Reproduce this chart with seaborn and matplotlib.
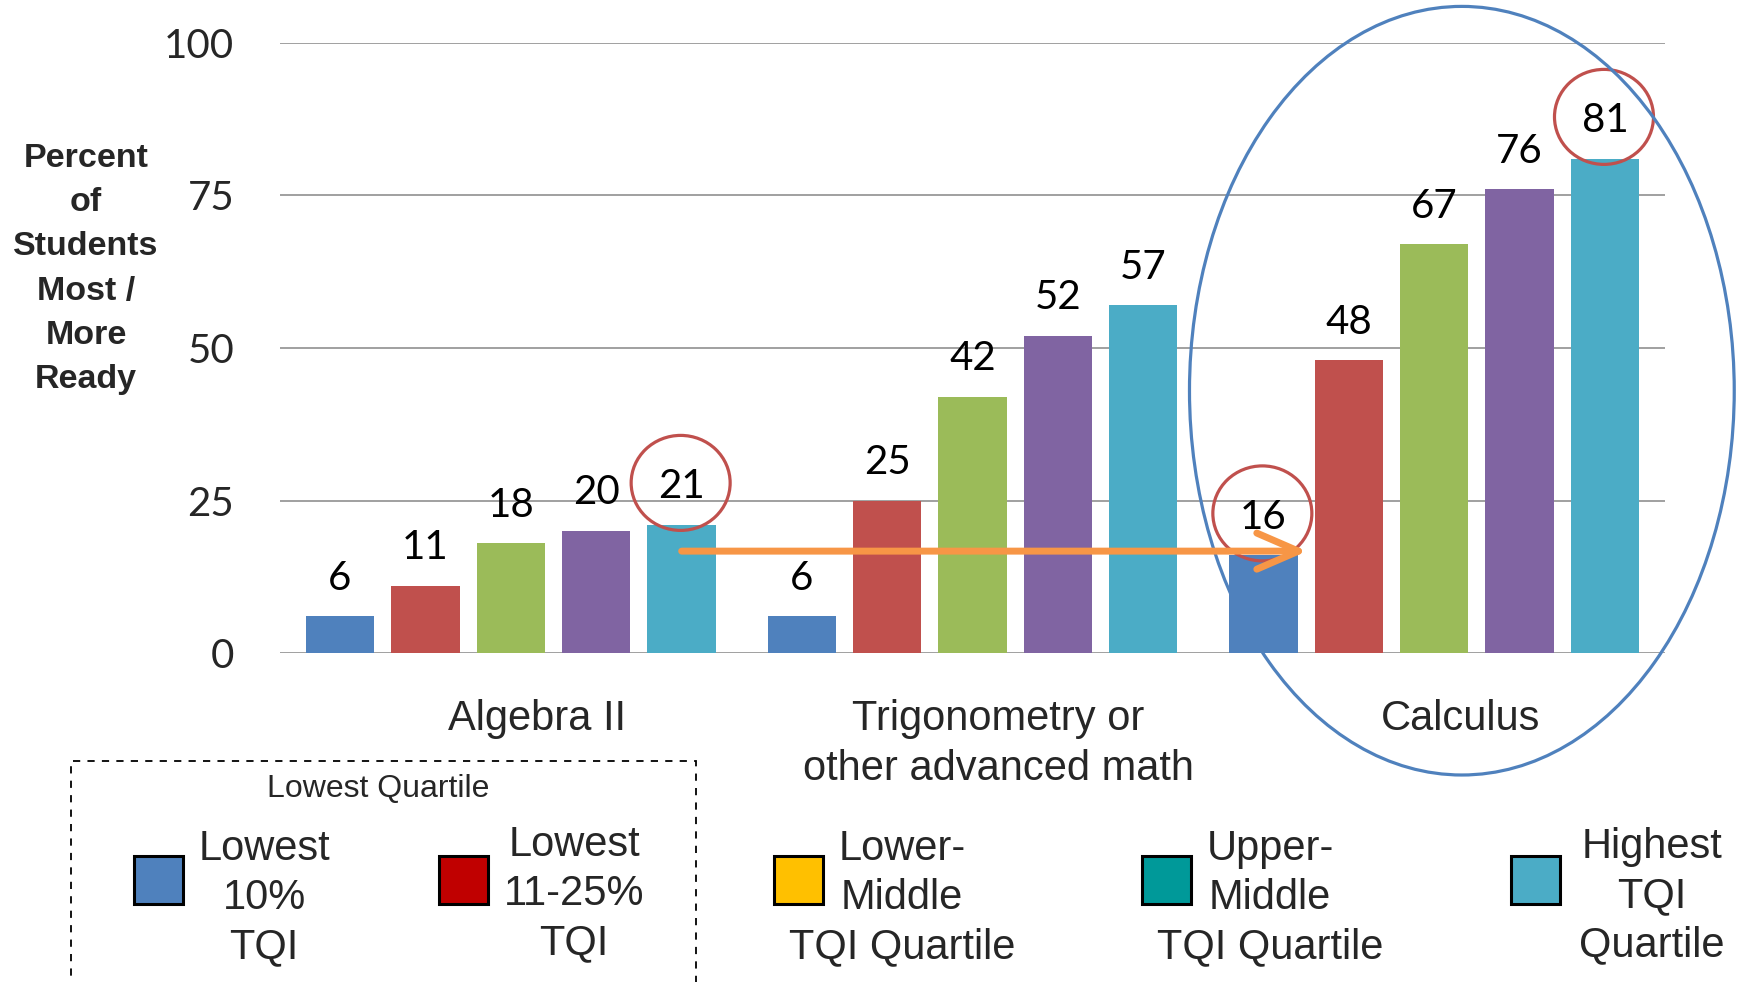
import matplotlib
matplotlib.use("Agg")
import matplotlib.pyplot as plt
import matplotlib.transforms as mtransforms
from matplotlib.patches import Ellipse, Rectangle
import pandas as pd
import seaborn as sns

# ---- data -------------------------------------------------------------
courses = ["Algebra II", "Trigonometry or\nother advanced math", "Calculus"]
groups = ["Lowest 10% TQI", "Lowest 11-25% TQI", "Lower-Middle TQI Quartile",
          "Upper-Middle TQI Quartile", "Highest TQI Quartile"]
lowest_10 = [6, 6, 16]
lowest_11_25 = [11, 25, 48]
lower_middle = [18, 42, 67]
upper_middle = [20, 52, 76]
highest = [21, 57, 81]
y_ticks = [0, 25, 50, 75, 100]

bar_colors = ["#4F81BD", "#C0504D", "#9BBB59", "#8064A2", "#4BACC6"]
legend_labels = ["Lowest\n10%\nTQI", "Lowest\n11-25%\nTQI", "Lower-\nMiddle\nTQI Quartile",
                 "Upper-\nMiddle\nTQI Quartile", "Highest\nTQI\nQuartile"]
legend_colors = ["#4F81BD", "#C00000", "#FFC000", "#009999", "#4BACC6"]
legend_title = "Lowest Quartile"
y_label = "Percent\nof\nStudents\nMost /\nMore\nReady"

# highlighted values: (course index, group index)
highlights = [(0, 4), (2, 0), (2, 4)]

series = [lowest_10, lowest_11_25, lower_middle, upper_middle, highest]
df = pd.DataFrame(
    [(c, g, v) for g, vals in zip(groups, series) for c, v in zip(courses, vals)],
    columns=["course", "group", "pct"],
)

# ---- style ------------------------------------------------------------
sns.set_theme(style="white")
plt.rcParams["font.family"] = ["Liberation Sans", "DejaVu Sans"]
NUM_FONT = ["Lato", "DejaVu Sans"]

W, H = 1742, 982
fig = plt.figure(figsize=(W / 100, H / 100), dpi=100)
ax = fig.add_axes([280 / W, 1 - 653 / H, 1385 / W, 610 / H])

sns.barplot(data=df, x="course", y="pct", hue="group", order=courses,
            hue_order=groups, palette=bar_colors, saturation=1,
            width=0.925, gap=0.2, legend=False, ax=ax, linewidth=0)

ax.set_ylim(0, 100)
ax.set_xlim(-0.5, len(courses) - 0.5)
ax.set_yticks(y_ticks)
ax.set_yticklabels([str(t) for t in y_ticks], fontsize=29, family=NUM_FONT)
ax.tick_params(axis="y", length=0, pad=33)
ax.tick_params(axis="x", length=0, pad=33, labelsize=30)
ax.set_xlabel("")
ax.set_ylabel("")
ax.set_axisbelow(True)
ax.yaxis.grid(True, color="#868686", linewidth=1.1)
ax.xaxis.grid(False)
for s in ax.spines.values():
    s.set_visible(False)

# course names sit slightly right of the group centres
shift = mtransforms.ScaledTranslation(0.26, 0, fig.dpi_scale_trans)
for lbl in ax.get_xticklabels():
    lbl.set_transform(lbl.get_transform() + shift)
    lbl.set_linespacing(1.34)

# value labels above the bars
label_pos = {}
for gi, cont in enumerate(ax.containers):
    for ci, bar in enumerate(cont):
        x = bar.get_x() + bar.get_width() / 2
        v = bar.get_height()
        label_pos[(ci, gi)] = (x, v)
        ax.annotate(f"{v:g}", xy=(x, v), xytext=(0, 27.5), textcoords="offset points",
                    ha="center", va="center", fontsize=29, family=NUM_FONT, color="black")

# red rings around the highlighted labels
for key in highlights:
    x, v = label_pos[key]
    tr = fig.dpi_scale_trans + mtransforms.ScaledTranslation(x, v, ax.transData)
    ring = Ellipse((-0.01, 0.42), width=0.99, height=0.95, transform=tr,
                   fill=False, edgecolor="#C0504D", linewidth=2.3, clip_on=False)
    ax.add_patch(ring)

# big blue ellipse around the Calculus group
ax.add_patch(Ellipse((2.06, 43), width=1.18, height=126, fill=False,
                     edgecolor="#4F81BD", linewidth=2.3, clip_on=False))

# orange arrow from Algebra II highest quartile to Calculus lowest 10%
x_start, _ = label_pos[(0, 4)]
x_end, v_end = label_pos[(2, 0)]
ax.annotate("", xy=(x_end + 0.095, v_end + 0.7), xytext=(x_start, v_end + 0.7),
            arrowprops=dict(arrowstyle="->,head_length=1.5,head_width=0.65",
                            mutation_scale=20, color="#F79646", lw=5,
                            shrinkA=0, shrinkB=0, capstyle="round", joinstyle="round"))

# y-axis title
fig.text(86 / W, 1 - 269 / H, y_label, ha="center", va="center", fontsize=24.5,
         fontweight="bold", multialignment="center", linespacing=1.55)

# ---- legend ------------------------------------------------------------
fig.patches.append(Rectangle((71 / W, -0.05), 625 / W, (H - 761) / H + 0.05,
                             transform=fig.transFigure, fill=False, edgecolor="black",
                             linewidth=1.3, linestyle=(0, (4, 4))))
fig.text(378 / W, 1 - 797 / H, legend_title, ha="center", va="baseline", fontsize=23)

sq_left = [134, 439, 774, 1142, 1511]
txt_center = [264, 574, 902, 1270, 1652]
txt_mid = [898, 894, 898, 898, 896]
for lab, col, sx, tx, ty in zip(legend_labels, legend_colors, sq_left, txt_center, txt_mid):
    fig.patches.append(Rectangle((sx / W, 1 - 904 / H), 49 / W, 48 / H,
                                 transform=fig.transFigure, facecolor=col,
                                 edgecolor="black", linewidth=2.2))
    fig.text(tx / W, 1 - ty / H, lab, ha="center", va="center", fontsize=30,
             multialignment="center", linespacing=1.3)

fig.savefig("out.png", dpi=100)
